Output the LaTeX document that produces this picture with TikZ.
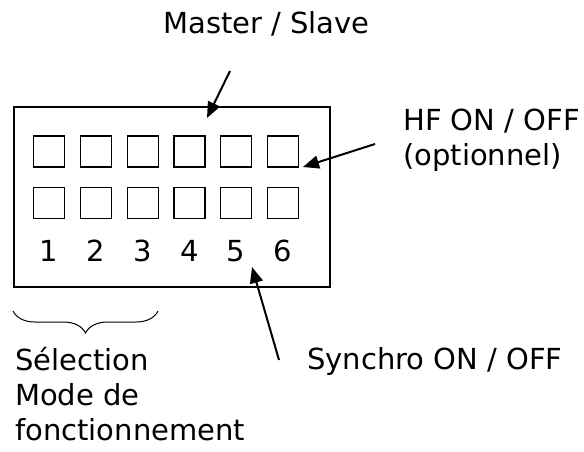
\documentclass[tikz,border=0pt]{standalone}
\usepackage{fontspec}
\setmainfont{DejaVu Sans}
\usetikzlibrary{positioning,arrows.meta,decorations.pathreplacing}

\begin{document}
\begin{tikzpicture}
        [x=1pt,y=-1pt,
        label/.style={font=\fontsize{29}{35}\selectfont,inner sep=0pt,anchor=base west,align=left},
        key/.style={draw,line width=1.2pt,minimum size=31pt,inner sep=0pt},
        pointer/.style={line width=2pt,-{Triangle[length=16pt,width=13pt]}}]
        \useasboundingbox (0,0) rectangle (584,451);
        \node[draw,line width=2pt,minimum width=316pt,minimum height=180pt,inner sep=0pt] (panel) at (172,197) {};
        \foreach \i in {1,...,6}{
            \node[key] (up\i) at ({2.2+46.8*\i},151.5) {};
            \node[key] (down\i) at ({2.2+46.8*\i},203) {};
            \node[label,anchor=base] (num\i) at ({2.2+46.8*\i},261) {\i};
        }
        \node[label] (master) at (163,33) {Master / Slave};
        \node[label] (hf) at (403,165) {HF ON / OFF\\(optionnel)};
        \node[label] (synchro) at (307,369) {Synchro ON / OFF};
        \node[label] (select) at (15,440) {Sélection\\Mode de\\fonctionnement};
        \coordinate (mastertail) at (230,71);
        \coordinate (mastertip) at (207,118);
        \coordinate (hftail) at (375,144);
        \coordinate (hftip) at (303,167);
        \coordinate (synchrotail) at (279,360);
        \coordinate (synchrotip) at (252,267);
        \draw[pointer] (mastertail) -- (mastertip);
        \draw[pointer] (hftail) -- (hftip);
        \draw[pointer] (synchrotail) -- (synchrotip);
        \draw[line width=1pt,decorate,decoration={brace,mirror,amplitude=22pt}] (13,311) -- (158,311);
    \end{tikzpicture}
\end{document}
